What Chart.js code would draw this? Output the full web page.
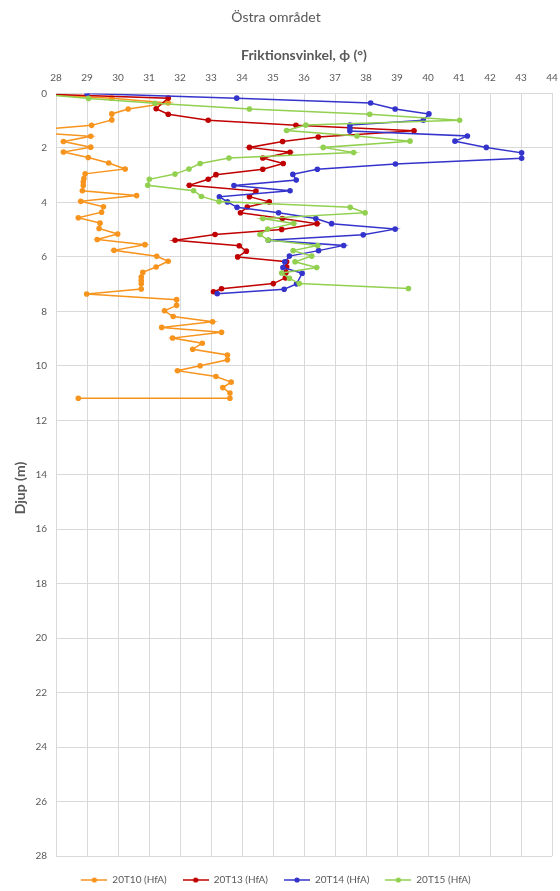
<!DOCTYPE html>
<html>
<head>
<meta charset="utf-8">
<script src="https://cdn.jsdelivr.net/npm/chart.js@4/dist/chart.umd.min.js"></script>
<style>
  html, body { margin: 0; padding: 0; background: #ffffff; }
  #wrap { width: 560px; height: 891px; }
</style>
</head>
<body>
<div id="wrap"><canvas id="chart" width="560" height="891"></canvas></div>
<script>
// Friction angle (degrees) against depth (m) for each sounding
const seriesNames = ['20T10 (HfA)', '20T13 (HfA)', '20T14 (HfA)', '20T15 (HfA)'];
const seriesColors = ['#F7941D', '#C00000', '#3434CC', '#92D050'];

const phi20T10 = [27.0, 29.8, 31.62, 30.33, 29.8, 29.8, 29.15, 26.7, 29.12, 28.24, 29.12, 28.24, 29.04, 29.7, 30.23,
  28.94, 28.9, 28.88, 28.88, 28.85, 30.6, 28.8, 29.53, 29.47, 28.72, 29.42, 29.39, 29.99, 29.33, 30.87, 29.87,
  31.25, 31.62, 31.23, 30.8, 30.75, 30.75, 30.75, 30.75, 28.99, 31.89, 31.89, 31.5, 31.78, 33.05, 31.41, 33.34,
  31.76, 32.72, 32.41, 33.53, 33.53, 32.65, 31.92, 33.16, 33.65, 33.38, 33.61, 33.61, 28.72];
const depth20T10 = [0.0, 0.17, 0.35, 0.57, 0.75, 0.97, 1.17, 1.39, 1.57, 1.76, 1.97, 2.15, 2.35, 2.55, 2.77,
  2.95, 3.12, 3.25, 3.38, 3.57, 3.75, 3.96, 4.16, 4.36, 4.56, 4.76, 4.96, 5.16, 5.36, 5.55, 5.76,
  5.98, 6.16, 6.37, 6.57, 6.74, 6.87, 6.99, 7.18, 7.36, 7.57, 7.78, 7.98, 8.19, 8.38, 8.59, 8.77,
  8.98, 9.17, 9.39, 9.6, 9.78, 10.0, 10.18, 10.39, 10.6, 10.8, 11.0, 11.19, 11.19];

const phi20T13 = [27.0, 31.62, 31.23, 31.62, 32.91, 35.74, 39.55, 36.46, 35.31, 34.24, 35.55, 34.67, 35.33, 34.67,
  33.16, 32.91, 32.3, 34.45, 34.24, 34.88, 34.17, 33.95, 35.3, 36.42, 35.28, 33.13, 31.84, 33.91, 34.14, 33.86,
  35.44, 35.44, 35.42, 35.4, 35.01, 33.34, 33.08];
const depth20T13 = [0.0, 0.17, 0.56, 0.76, 0.98, 1.17, 1.37, 1.6, 1.76, 1.98, 2.16, 2.37, 2.57, 2.78,
  2.98, 3.15, 3.37, 3.58, 3.79, 3.98, 4.17, 4.38, 4.59, 4.78, 4.99, 5.18, 5.39, 5.59, 5.79, 6.0,
  6.18, 6.37, 6.57, 6.77, 6.98, 7.17, 7.28];

const phi20T14 = [29.0, 33.83, 38.15, 38.94, 40.03, 39.85, 37.48, 37.48, 37.48, 41.27, 40.87, 41.88, 43.02, 43.02,
  38.95, 36.43, 35.64, 35.75, 33.74, 35.55, 33.27, 33.53, 33.84, 35.18, 36.38, 36.89, 38.94, 37.91, 34.85,
  37.28, 36.47, 35.53, 35.38, 35.32, 35.94, 35.76, 35.36, 33.2];
const depth20T14 = [0.0, 0.17, 0.35, 0.57, 0.75, 0.98, 1.16, 1.27, 1.38, 1.56, 1.75, 1.98, 2.18, 2.38,
  2.59, 2.78, 2.97, 3.18, 3.38, 3.57, 3.79, 3.98, 4.18, 4.38, 4.59, 4.78, 4.98, 5.19, 5.39,
  5.58, 5.77, 5.97, 6.18, 6.39, 6.6, 6.99, 7.19, 7.35];

const phi20T15 = [27.3, 29.05, 31.19, 34.24, 38.12, 41.02, 36.06, 35.44, 37.71, 39.42, 36.62, 37.6, 33.58, 32.65,
  32.29, 31.84, 31.01, 30.96, 32.44, 32.69, 33.26, 37.49, 37.97, 34.67, 35.67, 34.83, 34.58, 34.84, 36.44,
  35.65, 36.25, 35.71, 36.41, 35.28, 35.53, 35.85, 39.37];
const depth20T15 = [0.0, 0.18, 0.36, 0.57, 0.76, 0.98, 1.16, 1.36, 1.56, 1.75, 1.98, 2.17, 2.37, 2.57,
  2.77, 2.96, 3.15, 3.37, 3.57, 3.78, 3.97, 4.18, 4.38, 4.59, 4.77, 4.98, 5.18, 5.38, 5.58,
  5.77, 5.97, 6.18, 6.39, 6.59, 6.79, 6.98, 7.16];

// Axis ranges and tick spacing
const phiMin = 28, phiMax = 44, phiStep = 1;
const depthMin = 0, depthMax = 28, depthStep = 2;

const phiSeries = [phi20T10, phi20T13, phi20T14, phi20T15];
const depthSeries = [depth20T10, depth20T13, depth20T14, depth20T15];

const textColor = '#595959';
const gridColor = '#d9d9d9';
const fontFamily = 'Lato, "Open Sans", "Liberation Sans", sans-serif';
const depthTitle = 'Djup (m)';

// Legend symbol: short line with a dot in the middle
function legendSymbol(color) {
  const c = document.createElement('canvas');
  c.width = 26; c.height = 8;
  const g = c.getContext('2d');
  g.strokeStyle = color; g.lineWidth = 1.5;
  g.beginPath(); g.moveTo(0, 4); g.lineTo(26, 4); g.stroke();
  g.fillStyle = color;
  g.beginPath(); g.arc(13, 4, 2.6, 0, Math.PI * 2); g.fill();
  return c;
}

const datasets = seriesNames.map((name, i) => ({
  label: name,
  data: phiSeries[i].map((p, k) => ({ x: p, y: depthSeries[i][k] })),
  showLine: true,
  borderColor: seriesColors[i],
  backgroundColor: seriesColors[i],
  borderWidth: 1.5,
  pointRadius: 2.8,
  pointHoverRadius: 3,
  pointBorderWidth: 0,
  pointStyle: 'circle',
  order: seriesNames.length - i
}));

const legendIcons = seriesColors.map(legendSymbol);

// Nudges the legend a little lower and writes the vertical depth title
const layoutTweaks = {
  id: 'layoutTweaks',
  afterLayout(chart) {
    if (chart.legend) {
      chart.legend.top += 3;
      chart.legend.bottom += 3;
    }
  },
  afterDraw(chart) {
    const ctx = chart.ctx;
    ctx.save();
    ctx.translate(20, 488);
    ctx.rotate(-Math.PI / 2);
    ctx.font = 'bold 14px ' + fontFamily;
    ctx.fillStyle = textColor;
    ctx.textAlign = 'center';
    ctx.textBaseline = 'middle';
    ctx.fillText(depthTitle, 0, 0);
    ctx.restore();
  }
};

new Chart(document.getElementById('chart'), {
  type: 'scatter',
  data: { datasets },
  plugins: [layoutTweaks],
  options: {
    responsive: false,
    animation: false,
    devicePixelRatio: 1,
    layout: { padding: { left: 0, right: 8, top: 0, bottom: -1 } },
    plugins: {
      title: {
        display: true,
        text: 'Östra området',
        color: textColor,
        font: { family: fontFamily, size: 14, weight: 'normal' },
        padding: { top: 9, bottom: 6 }
      },
      legend: {
        position: 'bottom',
        labels: {
          color: textColor,
          font: { family: fontFamily, size: 10 },
          usePointStyle: true,
          pointStyleWidth: 26,
          boxHeight: 8,
          padding: 16,
          sort: (a, b) => a.datasetIndex - b.datasetIndex,
          generateLabels: (chart) => chart.data.datasets.map((ds, i) => ({
            text: ds.label,
            fillStyle: ds.borderColor,
            strokeStyle: ds.borderColor,
            fontColor: textColor,
            lineWidth: 0,
            pointStyle: legendIcons[i],
            hidden: false,
            datasetIndex: i
          }))
        }
      },
      tooltip: { enabled: false }
    },
    scales: {
      x: {
        type: 'linear',
        position: 'top',
        min: phiMin,
        max: phiMax,
        afterFit: (s) => { s.height = 61.7; s.paddingRight = 0; s.paddingLeft = 0; },
        ticks: {
          stepSize: phiStep,
          color: textColor,
          font: { family: fontFamily, size: 10 },
          padding: 10,
          maxRotation: 0
        },
        grid: { color: gridColor, lineWidth: 1, drawTicks: false },
        border: { color: gridColor, width: 1 },
        title: {
          display: true,
          text: 'Friktionsvinkel, ϕ (°)',
          color: textColor,
          font: { family: fontFamily, size: 14, weight: 'bold' },
          padding: { top: 15, bottom: 0 }
        }
      },
      y: {
        type: 'linear',
        reverse: true,
        min: depthMin,
        max: depthMax,
        afterFit: (s) => { s.width = 56; s.paddingTop = 0; s.paddingBottom = 0; },
        ticks: {
          stepSize: depthStep,
          color: textColor,
          font: { family: fontFamily, size: 10 },
          padding: 9
        },
        grid: { color: gridColor, lineWidth: 1, drawTicks: false },
        border: { color: gridColor, width: 1 },
        title: { display: false }
      }
    }
  }
});
</script>
</body>
</html>
